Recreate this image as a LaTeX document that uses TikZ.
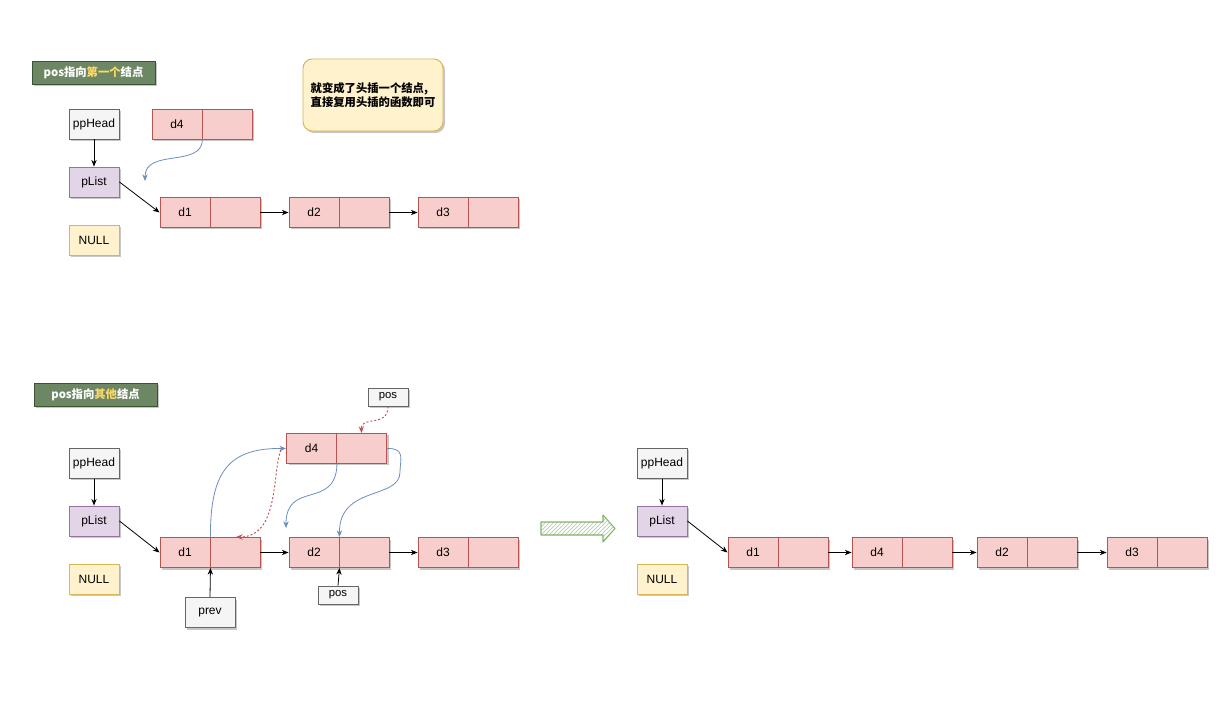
\documentclass[tikz,border=0pt]{standalone}
\usepackage{fontspec}
\setmainfont{Liberation Sans}
\newfontfamily\cjk{Noto Sans CJK SC}
\usetikzlibrary{arrows.meta,shadows,patterns}
\definecolor{cellfill}{HTML}{F8CECC}
\definecolor{celldraw}{HTML}{B85450}
\definecolor{grayfill}{HTML}{F5F5F5}
\definecolor{graydraw}{HTML}{666666}
\definecolor{purfill}{HTML}{E1D5E7}
\definecolor{purdraw}{HTML}{9673A6}
\definecolor{yelfill}{HTML}{FFF2CC}
\definecolor{yeldraw}{HTML}{D6B656}
\definecolor{titfill}{HTML}{6D8764}
\definecolor{titdraw}{HTML}{3A5431}
\definecolor{titgold}{HTML}{FFD966}
\definecolor{bluel}{HTML}{6C8EBF}
\definecolor{greenl}{HTML}{82B366}
\tikzset{
  shad/.style={drop shadow={shadow xshift=1.5pt,shadow yshift=-1.5pt,opacity=0.22,fill=black}},
  base/.style={rectangle,inner sep=0pt,line width=0.7pt,font=\fontsize{9}{11}\selectfont,shad},
  cell/.style={base,fill=cellfill,draw=celldraw,minimum width=37.5pt,minimum height=22.5pt},
  graybox/.style={base,fill=grayfill,draw=graydraw,minimum width=37.5pt,minimum height=22.5pt},
  purbox/.style={base,fill=purfill,draw=purdraw,minimum width=37.5pt,minimum height=22.5pt},
  yelbox/.style={base,fill=yelfill,draw=yeldraw,minimum width=37.5pt,minimum height=22.5pt},
  posbox/.style={base,fill=grayfill,draw=graydraw,minimum width=30pt,minimum height=13.5pt,font=\fontsize{8.5}{9}\selectfont},
  titbox/.style={base,fill=titfill,draw=titdraw,minimum width=92.25pt,minimum height=17.25pt,text=white,font=\cjk\bfseries\fontsize{8.5}{10}\selectfont},
  notebox/.style={base,fill=yelfill,draw=yeldraw,rounded corners=7pt,minimum width=105pt,minimum height=54pt,align=left,font=\cjk\bfseries\fontsize{8.5}{10.5}\selectfont},
  conn/.style={line width=0.6pt,-{Stealth[length=5pt,width=4pt]}},
  bconn/.style={line width=0.6pt,draw=bluel,-{Stealth[length=5pt,width=4pt]}},
  rconn/.style={line width=0.7pt,draw=celldraw,dash pattern=on 1.5pt off 1.5pt,-{Stealth[length=5pt,width=4pt]}},
}
\begin{document}
\begin{tikzpicture}[x=0.75pt,y=-0.75pt]
\path[use as bounding box,fill=white] (0,0) rectangle (1232,716);

% ---------- top section ----------
\node[titbox] (t1) at (93.5,72.5) {pos指向\textcolor{titgold}{第一个}结点};
\node[notebox] (note) at (373,95) {就变成了头插一个结点,\\直接复用头插的函数即可};
\node[graybox] (pph1) at (94,124) {ppHead};
\node[purbox] (pl1) at (94,182) {pList};
\node[yelbox] (nu1) at (94,240) {NULL};
\node[cell] (t4a) at (177,124) {d4};
\node[cell] (t4b) at (227,124) {};
\node[cell] (t1a) at (185,212.5) {d1};
\node[cell] (t1b) at (235,212.5) {};
\node[cell] (t2a) at (314,212.5) {d2};
\node[cell] (t2b) at (364,212.5) {};
\node[cell] (t3a) at (443,212.5) {d3};
\node[cell] (t3b) at (493,212.5) {};
\coordinate (tfree) at (145,181);
\draw[conn] (pph1) -- (pl1);
\draw[conn] (pl1.east) -- (t1a.west);
\draw[conn] (t1b.east) -- (t2a.west);
\draw[conn] (t2b.east) -- (t3a.west);
\draw[bconn] (t4a.south east) .. controls (202,168) and (145,148) .. (tfree);

% ---------- bottom section ----------
\node[titbox] (t2) at (95.5,394.5) {pos指向\textcolor{titgold}{其他}结点};
\node[graybox] (pph2) at (94,463.5) {ppHead};
\node[purbox] (pl2) at (94,521) {pList};
\node[yelbox] (nu2) at (94,579) {NULL};
\node[cell] (b1a) at (185,552.5) {d1};
\node[cell] (b1b) at (235,552.5) {};
\node[cell] (b2a) at (314,552.5) {d2};
\node[cell] (b2b) at (364,552.5) {};
\node[cell] (b3a) at (443,552.5) {d3};
\node[cell] (b3b) at (493,552.5) {};
\node[cell] (b4a) at (311.5,448.5) {d4};
\node[cell] (b4b) at (361.5,448.5) {};
\node[posbox] (posT) at (388,397) {pos};
\node[posbox] (posB) at (338,595) {pos};
\node[graybox] (prev) at (210,612.5) {prev};
\coordinate (bfree) at (286,528);
\draw[conn] (pph2) -- (pl2);
\draw[conn] (pl2.east) -- (b1a.west);
\draw[conn] (b1b.east) -- (b2a.west);
\draw[conn] (b2b.east) -- (b3a.west);
\draw[conn] (prev.north) -- (b1a.south east);
\draw[conn] (posB.north) -- (b2a.south east);
\draw[bconn] (b1a.north east) .. controls (210,470) and (230,448) .. (b4a.west);
\draw[rconn] (281,450) .. controls (272,470) and (280,537) .. (236,537);
\draw[rconn] (posT.south) .. controls (388,428) and (361,415) .. (b4b.north);
\draw[bconn] (b4a.south east) .. controls (336,510) and (286,480) .. (bfree);
\draw[bconn] (b4b.east) .. controls (406,448) and (400,460) .. (400,472)
  .. controls (400,500) and (339,485) .. (b2a.north east);

% ---------- green arrow ----------
\path[pattern=north east lines,pattern color=greenl!70] (541,522) -- (603,522) -- (603,515) -- (615,528.5) -- (603,542) -- (603,535) -- (541,535) -- cycle;
\draw[greenl,line width=0.8pt,line join=round] (541,522) -- (603,522) -- (603,515) -- (615,528.5) -- (603,542) -- (603,535) -- (541,535) -- cycle;

% ---------- right section ----------
\node[graybox] (pph3) at (662,463.5) {ppHead};
\node[purbox] (pl3) at (662,521) {pList};
\node[yelbox] (nu3) at (662,579) {NULL};
\node[cell] (r1a) at (753,552.5) {d1};
\node[cell] (r1b) at (803,552.5) {};
\node[cell] (r4a) at (877,552.5) {d4};
\node[cell] (r4b) at (927,552.5) {};
\node[cell] (r2a) at (1002,552.5) {d2};
\node[cell] (r2b) at (1052,552.5) {};
\node[cell] (r3a) at (1132,552.5) {d3};
\node[cell] (r3b) at (1182,552.5) {};
\draw[conn] (pph3) -- (pl3);
\draw[conn] (pl3.east) -- (r1a.west);
\draw[conn] (r1b.east) -- (r4a.west);
\draw[conn] (r4b.east) -- (r2a.west);
\draw[conn] (r2b.east) -- (r3a.west);
\end{tikzpicture}
\end{document}
